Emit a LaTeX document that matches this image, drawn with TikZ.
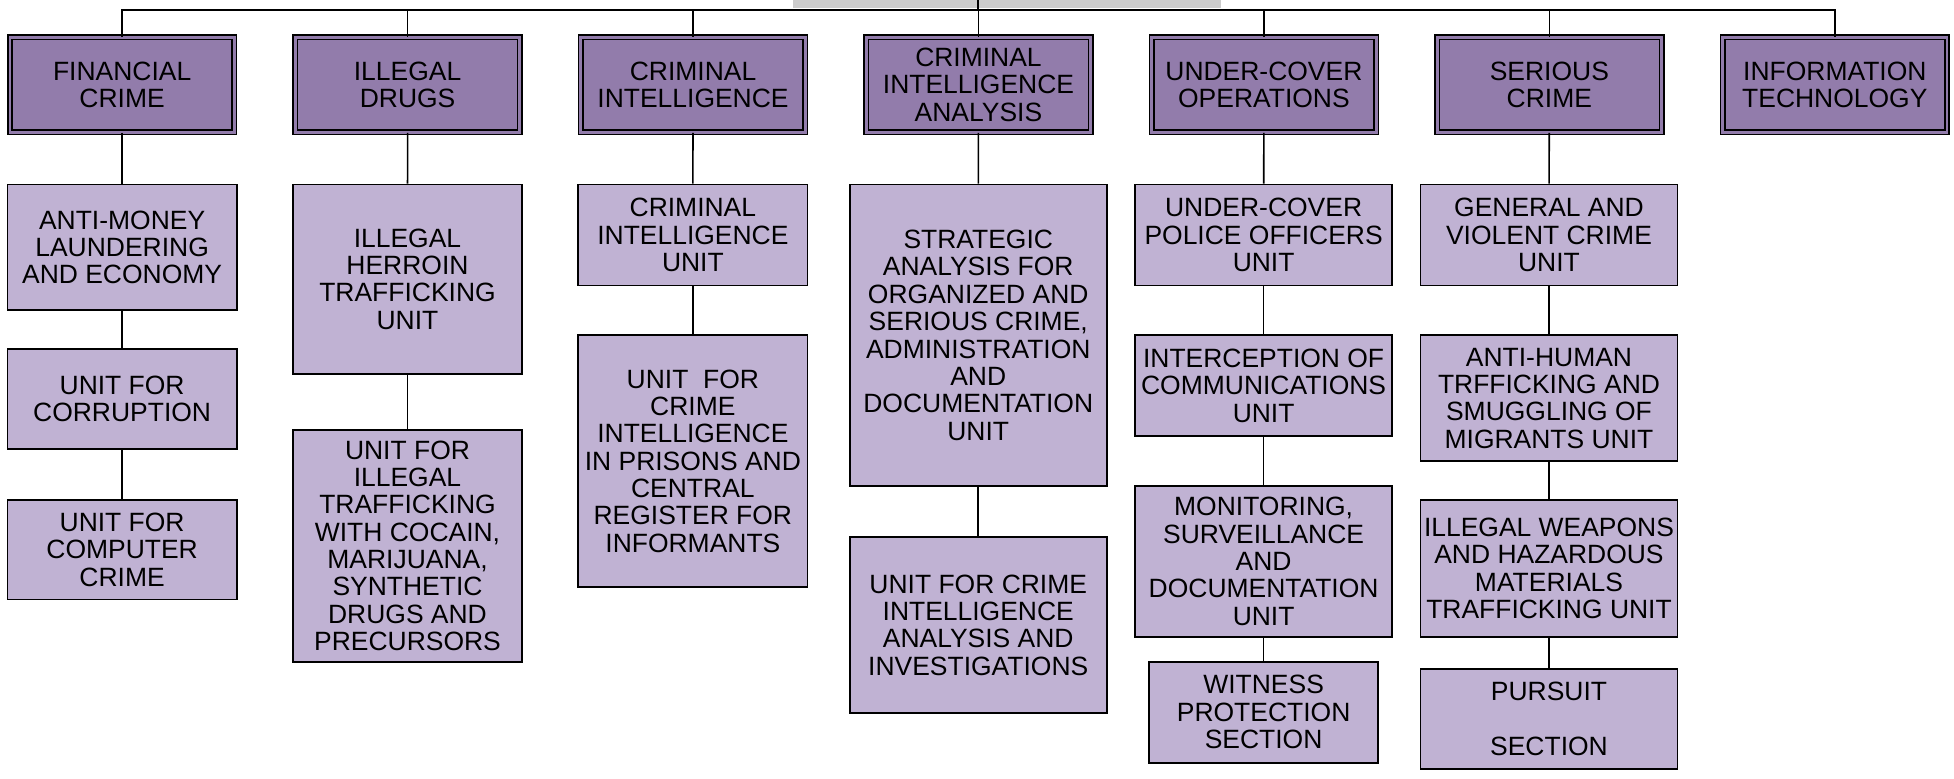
\documentclass[tikz,border=0pt]{standalone}
\usepackage{fontspec}
\setmainfont{Liberation Sans}
\definecolor{headfill}{RGB}{146,124,171}
\definecolor{unitfill}{RGB}{192,178,211}
\definecolor{rootgray}{RGB}{204,204,204}
\newcommand{\boxfont}{\fontsize{15.1}{15.6}\selectfont}

\begin{document}
\begin{tikzpicture}[x=0.025cm, y=-0.025cm, node distance=5.725cm,
  head/.style={rectangle, draw=black, line width=0.9pt, double=headfill, double distance=1.6pt, fill=headfill, minimum width=4.5cm, minimum height=1.9cm, inner sep=1pt, align=center, font=\boxfont},
  unit/.style={rectangle, draw=black, line width=1pt, fill=unitfill, minimum width=4.6cm, inner sep=0.5pt, align=center, font=\boxfont},
  wide/.style={unit, minimum width=5.15cm},
  link/.style={line width=0.9pt}]
  {
  \useasboundingbox (0,0) rectangle (1568,625);
  \clip (0,0) rectangle (1568,625);

  \node[fill=rootgray, minimum width=8.6cm, minimum height=1cm, inner sep=0pt, anchor=south] (root) at (808,7) {};
  \coordinate (bar) at (785,8);

  \node[head] (fin) at (98,68) {FINANCIAL\\CRIME};
  \node[head, right of=fin] (drg) {ILLEGAL\\DRUGS};
  \node[head, right of=drg] (cri) {CRIMINAL\\INTELLIGENCE};
  \node[head, right of=cri] (cia) {CRIMINAL\\INTELLIGENCE\\ANALYSIS};
  \node[head, right of=cia] (ucv) {UNDER-COVER\\OPERATIONS};
  \node[head, right of=ucv] (ser) {SERIOUS\\CRIME};
  \node[head, right of=ser] (itech) {INFORMATION\\TECHNOLOGY};

  \node[unit, minimum height=2.525cm] (aml) at (98,198.5) {ANTI-MONEY\\LAUNDERING\\AND ECONOMY};
  \node[unit, minimum height=2cm] (corr) at (98,320) {UNIT FOR\\CORRUPTION};
  \node[unit, minimum height=2cm] (comp) at (98,441) {UNIT FOR\\COMPUTER\\CRIME};

  \node[unit, minimum height=3.8cm] (her) at (327,224) {ILLEGAL\\HERROIN\\TRAFFICKING\\UNIT};
  \node[unit, minimum height=4.65cm] (coc) at (327,438) {UNIT FOR\\ILLEGAL\\TRAFFICKING\\WITH COCAIN,\\MARIJUANA,\\SYNTHETIC\\DRUGS AND\\PRECURSORS};

  \node[unit, minimum height=2.025cm] (ciu) at (556,188.5) {CRIMINAL\\INTELLIGENCE\\UNIT};
  \node[unit, minimum height=5.05cm] (prs) at (556,370) {UNIT~~FOR\\CRIME\\INTELLIGENCE\\IN PRISONS AND\\CENTRAL\\REGISTER FOR\\INFORMANTS};

  \node[wide, minimum height=6.05cm] (sta) at (785,269) {STRATEGIC\\ANALYSIS FOR\\ORGANIZED AND\\SERIOUS CRIME,\\ADMINISTRATION\\AND\\DOCUMENTATION\\UNIT};
  \node[wide, minimum height=3.525cm] (inv) at (785,501.5) {UNIT FOR CRIME\\INTELLIGENCE\\ANALYSIS AND\\INVESTIGATIONS};

  \node[wide, minimum height=2.025cm] (ucp) at (1014,188.5) {UNDER-COVER\\POLICE OFFICERS\\UNIT};
  \node[wide, minimum height=2.025cm] (icu) at (1014,309.5) {INTERCEPTION OF\\COMMUNICATIONS\\UNIT};
  \node[wide, minimum height=3.025cm] (mon) at (1014,450.5) {MONITORING,\\SURVEILLANCE\\AND\\DOCUMENTATION\\UNIT};
  \node[unit, minimum height=2.025cm] (wit) at (1014,571.5) {WITNESS\\PROTECTION\\SECTION};

  \node[wide, minimum height=2.025cm] (gvc) at (1243,188.5) {GENERAL AND\\VIOLENT CRIME\\UNIT};
  \node[wide, minimum height=2.525cm] (ahm) at (1243,319.5) {ANTI-HUMAN\\TRFFICKING AND\\SMUGGLING OF\\MIGRANTS UNIT};
  \node[wide, minimum height=2.75cm] (wpn) at (1243,456) {ILLEGAL WEAPONS\\AND HAZARDOUS\\MATERIALS\\TRAFFICKING UNIT};
  \node[wide, minimum height=2cm] (pur) at (1243,577) {PURSUIT\\\mbox{}\\SECTION};

  \draw[link] (root.north -| bar) -- (bar);
  \foreach \h in {fin,drg,cri,cia,ucv,ser,itech}
    \draw[link] (bar) -| (\h);
  \foreach \a/\b in {fin/aml, aml/corr, corr/comp, drg/her, her/coc, cri/ciu, ciu/prs, cia/sta, sta/inv, ucv/ucp, ucp/icu, icu/mon, mon/wit, ser/gvc, gvc/ahm, ahm/wpn, wpn/pur}
    \draw[link] (\a) -- (\b);
  }
\end{tikzpicture}
\end{document}
